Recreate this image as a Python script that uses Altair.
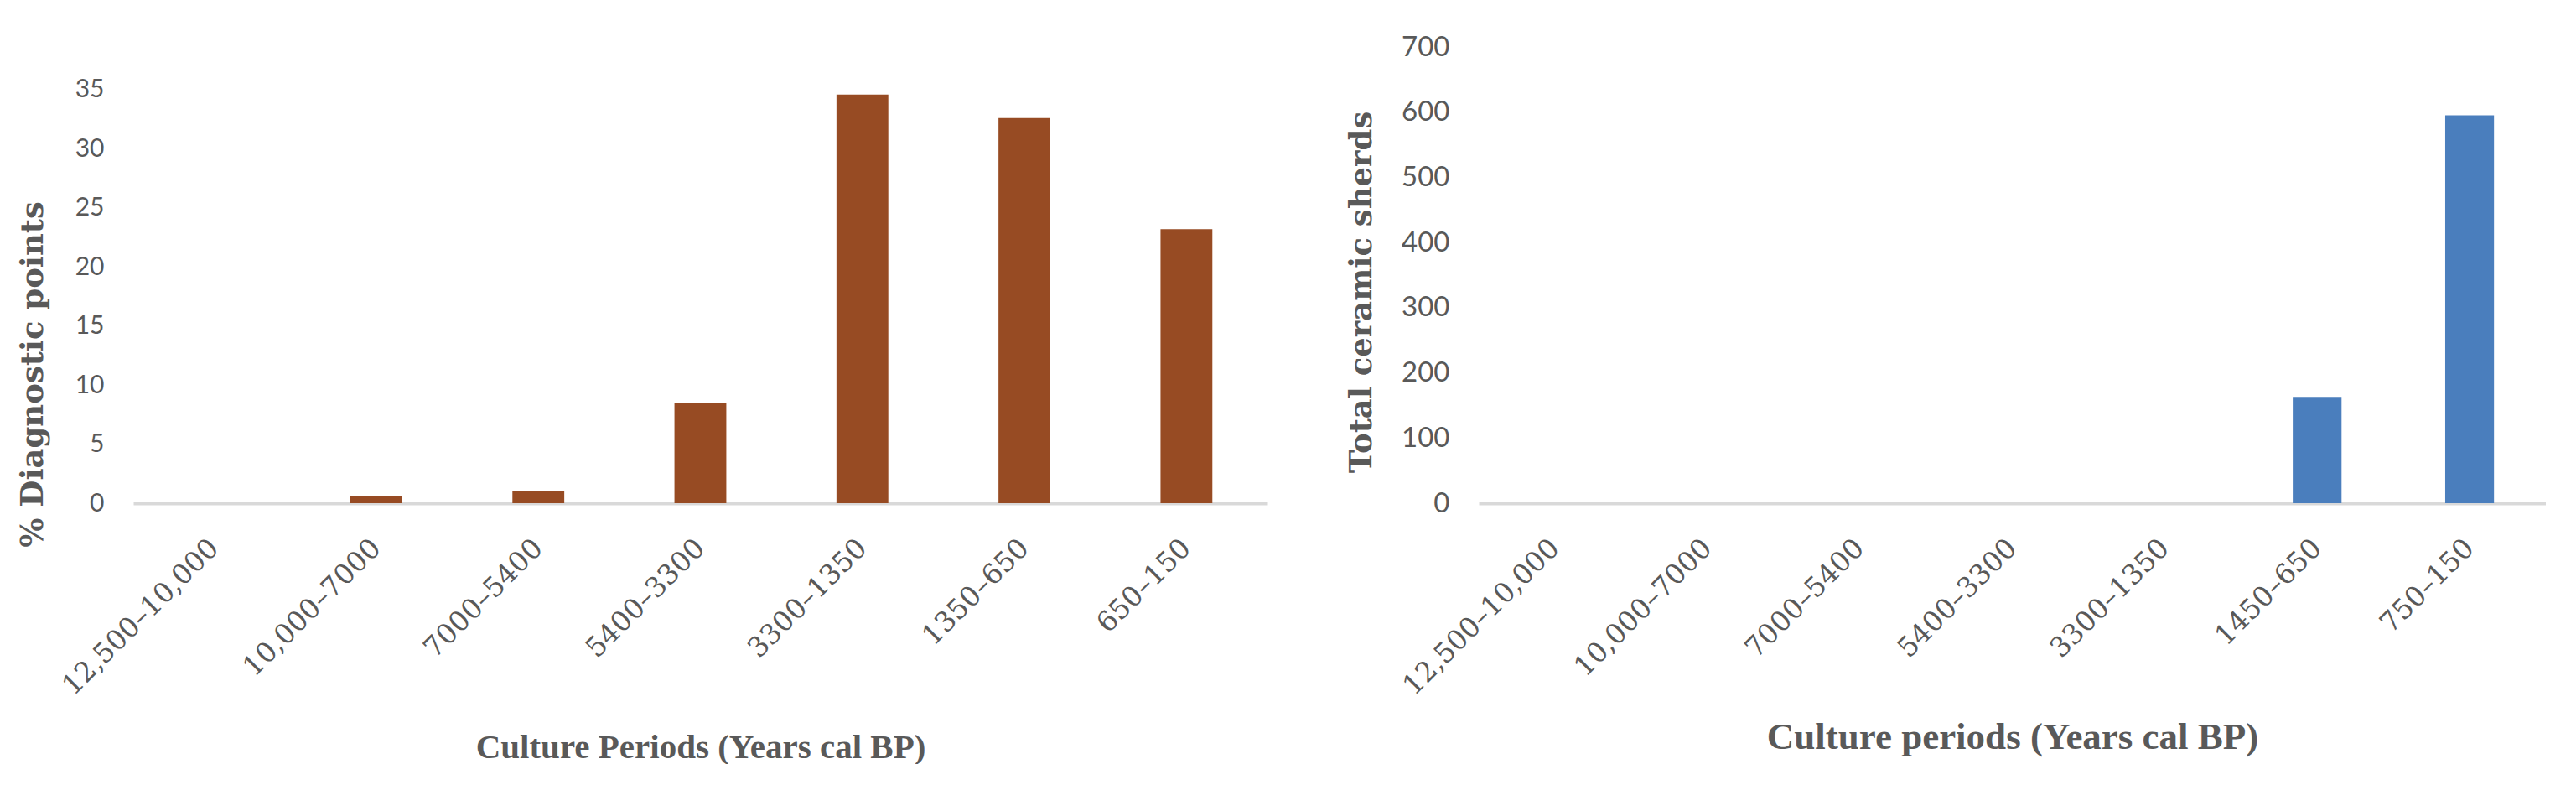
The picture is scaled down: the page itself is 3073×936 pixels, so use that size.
import altair as alt
import pandas as pd

# ---- data ----
periods_left = ["12,500–10,000", "10,000–7000", "7000–5400", "5400–3300",
                "3300–1350", "1350–650", "650–150"]
pct_diagnostic = [0, 0.6, 1.0, 8.5, 34.6, 32.6, 23.2]

periods_right = ["12,500–10,000", "10,000–7000", "7000–5400", "5400–3300",
                 "3300–1350", "1450–650", "750–150"]
ceramic_sherds = [0, 0, 0, 0, 0, 163, 595]

left_ticks = [0, 5, 10, 15, 20, 25, 30, 35]
right_ticks = [0, 100, 200, 300, 400, 500, 600, 700]

df_left = pd.DataFrame({"period": periods_left, "value": pct_diagnostic})
df_right = pd.DataFrame({"period": periods_right, "value": ceramic_sherds})

GRAY = "#595959"
AXIS_LINE = "#D9D9D9"


def x_axis(title, title_size, title_y):
    return alt.Axis(
        title=title,
        labelAngle=-45,
        labelAlign="right",
        labelBaseline="middle",
        labelFont="DejaVu Serif",
        labelFontSize=33,
        labelColor=GRAY,
        labelPadding=48,
        labelLimit=0,
        labelOverlap=False,
        ticks=False,
        domain=True,
        domainColor=AXIS_LINE,
        domainWidth=4,
        grid=False,
        titleFont="Liberation Serif",
        titleFontWeight="bold",
        titleFontSize=title_size,
        titleColor=GRAY,
        titleBaseline="top",
        titleY=title_y,
    )


def y_axis(title, ticks, label_size, title_x, title_y):
    return alt.Axis(
        title=title,
        values=ticks,
        labelFont="Lato",
        labelFontSize=label_size,
        labelColor=GRAY,
        labelPadding=35,
        ticks=False,
        domain=False,
        grid=False,
        titleFont="DejaVu Serif",
        titleFontWeight="bold",
        titleFontSize=37,
        titleColor=GRAY,
        titleX=title_x,
        titleY=title_y,
    )


left = alt.Chart(df_left).mark_bar(color="#974B23").encode(
    x=alt.X("period:N", sort=periods_left,
            scale=alt.Scale(paddingInner=0.68, paddingOuter=0.34),
            axis=x_axis("Culture Periods (Years cal BP)", 41, 271)),
    y=alt.Y("value:Q",
            scale=alt.Scale(domain=[0, 38.62], nice=False),
            axis=y_axis("% Diagnostic points", left_ticks, 30, -101, 390)),
).properties(width=1353, height=544)

right = alt.Chart(df_right).mark_bar(color="#4A7EBD").encode(
    x=alt.X("period:N", sort=periods_right,
            scale=alt.Scale(paddingInner=0.68, paddingOuter=0.34),
            axis=x_axis("Culture periods (Years cal BP)", 45, 256)),
    y=alt.Y("value:Q",
            scale=alt.Scale(domain=[0, 700], nice=False),
            axis=y_axis("Total ceramic  sherds", right_ticks, 33, -121, 292)),
).properties(width=1273, height=544)

chart = alt.hconcat(left, right, spacing=252, bounds="flush").properties(
    padding={"left": 12, "top": 32, "right": 0, "bottom": 0}
).configure_view(stroke=None)

chart.save("out.html", embed_options={"renderer": "svg", "actions": False})
